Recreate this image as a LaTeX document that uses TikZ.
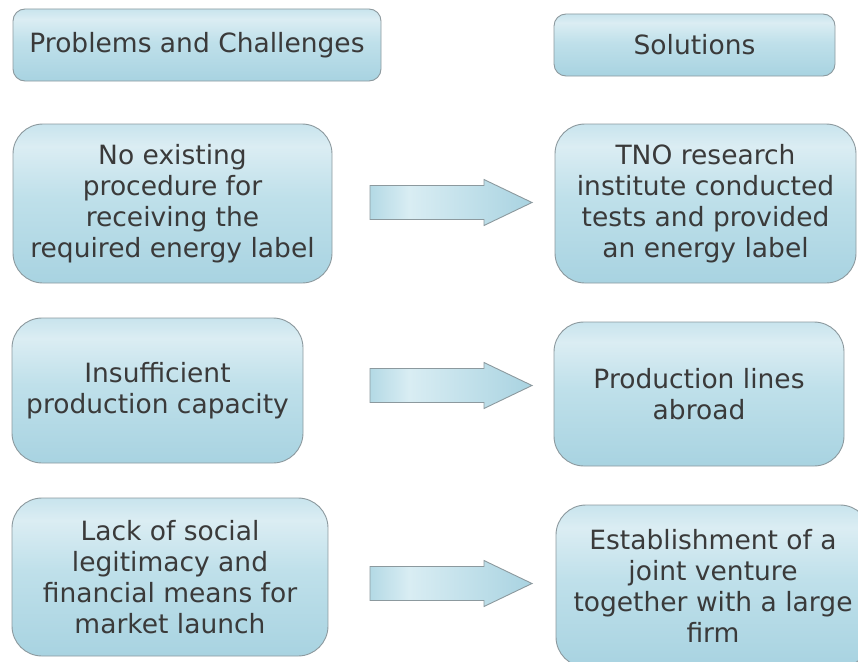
\documentclass[tikz,border=0pt]{standalone}
\usepackage{fontspec}
\setmainfont{DejaVu Sans}

% palette
\definecolor{bxbot}{HTML}{A8D3E1}
\definecolor{bxmid}{HTML}{BFE0EA}
\definecolor{bxlight}{HTML}{DBEDF3}
\definecolor{bxtop}{HTML}{C8E4ED}
\definecolor{arleft}{HTML}{B3D9E5}
\definecolor{arlight}{HTML}{D9EDF3}
\definecolor{arright}{HTML}{A9D3E1}
\definecolor{edgegray}{HTML}{8C999E}
\definecolor{txtgray}{HTML}{3A3A3A}

% soft top-lit fill of the boxes (25bp..75bp spans the shape)
\pgfdeclareverticalshading{boxfill}{100bp}{color(0bp)=(bxbot); color(25bp)=(bxbot);
  color(52bp)=(bxmid); color(68bp)=(bxlight); color(75bp)=(bxtop); color(100bp)=(bxtop)}
% left-lit fill of the block arrows
\pgfdeclarehorizontalshading{arrowfill}{100bp}{color(0bp)=(arleft); color(25bp)=(arleft);
  color(37bp)=(arlight); color(75bp)=(arright); color(100bp)=(arright)}

\tikzset{
  boxbase/.style={draw=edgegray, line width=0.9pt, shading=boxfill, text=txtgray,
    align=center, inner sep=0pt, font=\fontsize{26.5}{31}\selectfont},
  headbox/.style={boxbase, rounded corners=12pt},
  card/.style={boxbase, rounded corners=30pt},
  arrowbody/.style={draw=edgegray, line width=0.9pt, shading=arrowfill},
  blockarrow/.pic={
    \path[arrowbody] (0,-17) -- (114,-17) -- (114,-23) -- (162,0)
      -- (114,23) -- (114,17) -- (0,17) -- cycle;
  }
}

\begin{document}
\begin{tikzpicture}[x=1pt,y=-1pt]
  \useasboundingbox (0,0) rectangle (858,661);
  \clip (0,0) rectangle (858,661);

  % column headings
  \node[headbox, minimum width=368pt, minimum height=72pt] (hprob) at (197,45)
    {Problems and Challenges};
  \node[headbox, minimum width=281pt, minimum height=62pt] (hsol) at (694.5,45)
    {Solutions};

  % problems
  \node[card, minimum width=319pt, minimum height=159pt] (p1) at (172.5,203.5)
    {No existing\\procedure for\\receiving the\\required energy label};
  \node[card, minimum width=291pt, minimum height=145pt] (p2) at (157.5,390.5)
    {Insufficient\\production capacity};
  \node[card, minimum width=316pt, minimum height=158pt] (p3) at (170,577)
    {Lack of social\\legitimacy and\\financial means for\\market launch};

  % solutions
  \node[card, minimum width=301pt, minimum height=159pt] (s1) at (705.5,203.5)
    {TNO research\\institute conducted\\tests and provided\\an energy label};
  \node[card, minimum width=290pt, minimum height=144pt] (s2) at (699,394)
    {Production lines\\abroad};
  \node[card, minimum width=314pt, minimum height=162pt] (s3) at (713,586)
    {Establishment of a\\joint venture\\together with a large\\firm};

  % block arrows from each problem to its solution
  \pic (a1) at (370,202.5) {blockarrow};
  \pic (a2) at (370,385.5) {blockarrow};
  \pic (a3) at (370,583.5) {blockarrow};
\end{tikzpicture}
\end{document}
